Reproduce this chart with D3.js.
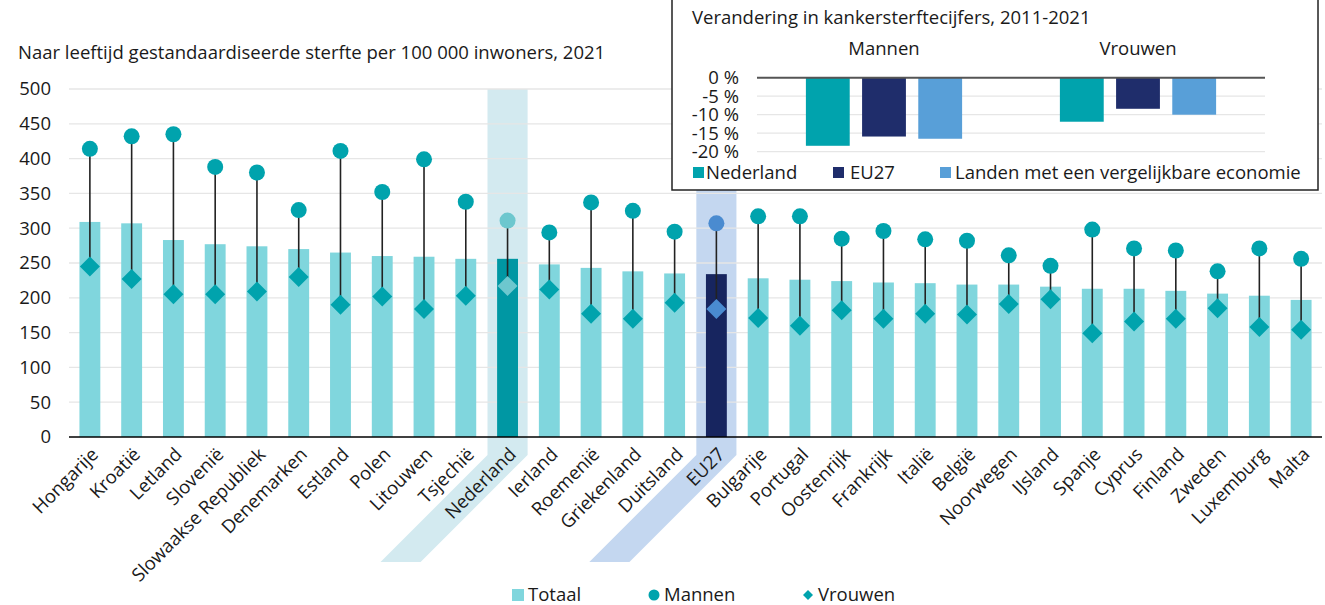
<!DOCTYPE html>
<html>
<head>
<meta charset="utf-8">
<script src="https://cdn.jsdelivr.net/npm/d3@7"></script>
<style>
  html, body { margin: 0; padding: 0; background: #fff; }
  svg { display: block; font-family: "Open Sans", sans-serif; }
</style>
</head>
<body>
<svg id="chart" width="1325" height="605"></svg>
<script>
// ---------- DATA ----------
const categories = ["Hongarije","Kroatië","Letland","Slovenië","Slowaakse Republiek","Denemarken","Estland","Polen","Litouwen","Tsjechië","Nederland","Ierland","Roemenië","Griekenland","Duitsland","EU27","Bulgarije","Portugal","Oostenrijk","Frankrijk","Italië","België","Noorwegen","IJsland","Spanje","Cyprus","Finland","Zweden","Luxemburg","Malta"];
const totaal  = [309,307,283,277,274,270,265,260,259,256,256,248,243,238,235,234,228,226,224,222,221,219,219,216,213,213,210,206,203,197];
const mannen  = [414,432,435,388,380,326,411,352,399,338,311,294,337,325,295,307,317,317,285,296,284,282,261,246,298,271,268,238,271,256];
const vrouwen = [245,227,205,205,209,230,190,202,184,203,217,212,177,170,193,184,171,160,182,170,177,176,191,198,149,166,170,185,158,154];
const yTicks = [0,50,100,150,200,250,300,350,400,450,500];
const highlightNL = "Nederland";
const highlightEU = "EU27";
const subtitle = "Naar leeftijd gestandaardiseerde sterfte per 100 000 inwoners, 2021";
const legendLabels = ["Totaal","Mannen","Vrouwen"];

// inset
const insetTitle = "Verandering in kankersterftecijfers, 2011-2021";
const insetGroups = ["Mannen","Vrouwen"];
const insetSeries = ["Nederland","EU27","Landen met een vergelijkbare economie"];
const insetMannen  = [-18.4,-15.9,-16.5];
const insetVrouwen = [-11.9,-8.4,-10.0];
const insetTicks = [0,-5,-10,-15,-20];

// ---------- STYLE ----------
const C = {
  bar: "#80d6dd", barNL: "#0097a3", barEU: "#17255f",
  dot: "#00a3ad", dotNL: "#6dc7ce", dotEU: "#4a8bd0",
  bandNL: "#d3eaf0", bandEU: "#c4d7f0",
  grid: "#e6e6e6", text: "#1a1a1a",
  iNL: "#00a3ad", iEU: "#1f2d6b", iVG: "#589fd8"
};
const FS = 18.5;

const svg = d3.select("#chart");
svg.append("rect").attr("width",1325).attr("height",605).attr("fill","#fff");

// tiny cut-off heading fragment at top
svg.append("text").attr("x",52).attr("y",-9).attr("font-size",22).attr("font-weight",700)
  .attr("fill","#1a5a96").text("g");

// ---------- MAIN SCALES ----------
const x = d3.scaleBand().domain(categories).range([69,1322]).paddingInner(0.5).paddingOuter(0.25);
const y = d3.scaleLinear().domain([0,500]).range([437,89]);
const bw = x.bandwidth(), step = x.step();

// subtitle
svg.append("text").attr("x",18).attr("y",59).attr("font-size",FS).attr("fill",C.text).text(subtitle);

// highlight bands (vertical + slanted part under labels)
function band(cat, color){
  const cx = x(cat) + bw/2;
  const x0 = cx - step*0.48, x1 = cx + step*0.48;
  const yTop = y(500), yBreak = 455, yBot = 562;
  const d = yBot - yBreak;
  svg.append("path")
    .attr("d", `M${x0},${yTop}L${x1},${yTop}L${x1},${yBreak}L${x1-d},${yBot}L${x0-d},${yBot}L${x0},${yBreak}Z`)
    .attr("fill", color);
}
band(highlightNL, C.bandNL);
band(highlightEU, C.bandEU);

// gridlines
svg.append("g").selectAll("line").data(yTicks.filter(t=>t>0)).join("line")
  .attr("x1",69).attr("x2",1322).attr("y1",d=>y(d)).attr("y2",d=>y(d))
  .attr("stroke",C.grid).attr("stroke-width",1.3);

// y tick labels
svg.append("g").selectAll("text").data(yTicks).join("text")
  .attr("x",51).attr("y",d=>y(d)).attr("dy","0.35em").attr("text-anchor","end")
  .attr("font-size",FS).attr("fill",C.text).text(d=>d);

// bars
svg.append("g").selectAll("rect").data(categories).join("rect")
  .attr("x",d=>x(d)).attr("width",bw)
  .attr("y",(d,i)=>y(totaal[i])).attr("height",(d,i)=>y(0)-y(totaal[i]))
  .attr("fill",d=> d===highlightNL ? C.barNL : d===highlightEU ? C.barEU : C.bar);

// axis line
svg.append("line").attr("x1",69).attr("x2",1322).attr("y1",y(0)).attr("y2",y(0))
  .attr("stroke","#000").attr("stroke-width",1.5);

// stems
svg.append("g").selectAll("line").data(categories).join("line")
  .attr("x1",d=>x(d)+bw/2).attr("x2",d=>x(d)+bw/2)
  .attr("y1",(d,i)=>y(mannen[i])).attr("y2",(d,i)=>y(vrouwen[i]))
  .attr("stroke","#222").attr("stroke-width",1.6);

const dotColor = d => d===highlightNL ? C.dotNL : d===highlightEU ? C.dotEU : C.dot;
// circles
svg.append("g").selectAll("circle").data(categories).join("circle")
  .attr("cx",d=>x(d)+bw/2).attr("cy",(d,i)=>y(mannen[i])).attr("r",8)
  .attr("fill",dotColor);
// diamonds
const dm = 10;
svg.append("g").selectAll("path").data(categories).join("path")
  .attr("d",(d,i)=>{const cx=x(d)+bw/2, cy=y(vrouwen[i]); return `M${cx},${cy-dm}L${cx+dm},${cy}L${cx},${cy+dm}L${cx-dm},${cy}Z`;})
  .attr("fill",dotColor);

// x labels
svg.append("g").selectAll("text").data(categories).join("text")
  .attr("transform",d=>`translate(${x(d)+bw/2+5},${y(0)+14}) rotate(-45)`)
  .attr("text-anchor","end").attr("dy","0.35em")
  .attr("font-size",FS).attr("fill",C.text).text(d=>d);

// bottom legend
const lg = svg.append("g").attr("font-size",FS).attr("fill",C.text);
lg.append("rect").attr("x",512).attr("y",589).attr("width",12).attr("height",12).attr("fill",C.bar);
lg.append("text").attr("x",528).attr("y",601).text(legendLabels[0]);
lg.append("circle").attr("cx",654).attr("cy",595).attr("r",5.5).attr("fill",C.dot);
lg.append("text").attr("x",664).attr("y",601).text(legendLabels[1]);
lg.append("path").attr("d","M808,590L813,595L808,600L803,595Z").attr("fill",C.dot);
lg.append("text").attr("x",818).attr("y",601).text(legendLabels[2]);

// ---------- INSET ----------
const ig = svg.append("g");
ig.append("rect").attr("x",672).attr("y",-2).attr("width",646).attr("height",192)
  .attr("fill","#fff").attr("stroke","#222").attr("stroke-width",1.5);
ig.append("text").attr("x",692).attr("y",24).attr("font-size",FS).attr("fill",C.text).text(insetTitle);

const ix0 = d3.scaleBand().domain(insetGroups).range([757,1265]);
const ix1 = d3.scaleBand().domain(insetSeries).range([0,ix0.bandwidth()]).paddingInner(0.22).paddingOuter(0.87);
const iy = d3.scaleLinear().domain([-20,0]).range([151.7,77.7]);

ig.append("g").selectAll("line").data(insetTicks.filter(t=>t<0)).join("line")
  .attr("x1",757).attr("x2",1265).attr("y1",d=>iy(d)).attr("y2",d=>iy(d))
  .attr("stroke",C.grid).attr("stroke-width",1.3);
ig.append("g").selectAll("text").data(insetTicks).join("text")
  .attr("x",739).attr("y",d=>iy(d)).attr("dy","0.35em").attr("text-anchor","end")
  .attr("font-size",FS).attr("fill",C.text).text(d=>d+" %");
ig.append("g").selectAll("text").data(insetGroups).join("text")
  .attr("x",d=>ix0(d)+ix0.bandwidth()/2).attr("y",55).attr("text-anchor","middle")
  .attr("font-size",FS).attr("fill",C.text).text(d=>d);

const icol = [C.iNL, C.iEU, C.iVG];
const insetVals = [insetMannen, insetVrouwen];
insetGroups.forEach((g,gi)=>{
  ig.append("g").selectAll("rect").data(insetSeries).join("rect")
    .attr("x",s=>ix0(g)+ix1(s)).attr("width",ix1.bandwidth())
    .attr("y",iy(0)).attr("height",(s,si)=>iy(insetVals[gi][si])-iy(0))
    .attr("fill",(s,si)=>icol[si]);
});
ig.append("line").attr("x1",757).attr("x2",1265).attr("y1",iy(0)).attr("y2",iy(0))
  .attr("stroke","#555").attr("stroke-width",2);

// inset legend
const ilx = [693, 833, 940];
insetSeries.forEach((s,si)=>{
  ig.append("rect").attr("x",ilx[si]).attr("y",167).attr("width",11).attr("height",11).attr("fill",icol[si]);
  ig.append("text").attr("x",ilx[si]+(si===0?13:si===1?17:15)).attr("y",179)
    .attr("font-size",FS).attr("fill",C.text).text(s);
});
</script>
</body>
</html>
